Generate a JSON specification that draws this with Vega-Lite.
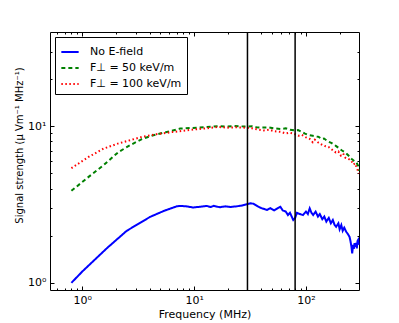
{
  "$schema": "https://vega.github.io/schema/vega-lite/v6.json",
  "width": 309,
  "height": 258,
  "autosize": {"type": "none"},
  "padding": {"left": 50, "top": 32, "right": 40, "bottom": 33},
  "config": {
    "font": "DejaVu Sans",
    "view": {"stroke": "black", "strokeWidth": 1},
    "axis": {"grid": false, "domain": false, "tickColor": "black", "labelColor": "black", "titleColor": "black", "labelFontSize": 11, "titleFontSize": 11, "titleFontWeight": "normal", "labelFont": "DejaVu Sans", "titleFont": "DejaVu Sans"}
  },
  "datasets": {
    "curves": [
      {"f": 0.8, "s": 1.0, "series": "No E-field"},
      {"f": 1.0, "s": 1.18, "series": "No E-field"},
      {"f": 1.67, "s": 1.67, "series": "No E-field"},
      {"f": 2.5, "s": 2.15, "series": "No E-field"},
      {"f": 4.05, "s": 2.64, "series": "No E-field"},
      {"f": 5.5, "s": 2.9, "series": "No E-field"},
      {"f": 7.0, "s": 3.08, "series": "No E-field"},
      {"f": 7.5, "s": 3.1, "series": "No E-field"},
      {"f": 8.5, "s": 3.08, "series": "No E-field"},
      {"f": 9.8, "s": 3.03, "series": "No E-field"},
      {"f": 11.3, "s": 3.06, "series": "No E-field"},
      {"f": 13, "s": 3.1, "series": "No E-field"},
      {"f": 14, "s": 3.05, "series": "No E-field"},
      {"f": 15, "s": 3.1, "series": "No E-field"},
      {"f": 17, "s": 3.04, "series": "No E-field"},
      {"f": 19, "s": 3.08, "series": "No E-field"},
      {"f": 21, "s": 3.05, "series": "No E-field"},
      {"f": 24, "s": 3.08, "series": "No E-field"},
      {"f": 27, "s": 3.12, "series": "No E-field"},
      {"f": 30, "s": 3.18, "series": "No E-field"},
      {"f": 32, "s": 3.22, "series": "No E-field"},
      {"f": 34, "s": 3.2, "series": "No E-field"},
      {"f": 37, "s": 3.08, "series": "No E-field"},
      {"f": 40, "s": 3.0, "series": "No E-field"},
      {"f": 43, "s": 2.95, "series": "No E-field"},
      {"f": 45, "s": 2.92, "series": "No E-field"},
      {"f": 48, "s": 3.0, "series": "No E-field"},
      {"f": 52, "s": 2.9, "series": "No E-field"},
      {"f": 56, "s": 3.0, "series": "No E-field"},
      {"f": 59, "s": 3.06, "series": "No E-field"},
      {"f": 62, "s": 2.9, "series": "No E-field"},
      {"f": 66, "s": 2.85, "series": "No E-field"},
      {"f": 69, "s": 2.71, "series": "No E-field"},
      {"f": 72, "s": 2.8, "series": "No E-field"},
      {"f": 77, "s": 2.52, "series": "No E-field"},
      {"f": 80, "s": 2.6, "series": "No E-field"},
      {"f": 83, "s": 2.8, "series": "No E-field"},
      {"f": 88, "s": 2.75, "series": "No E-field"},
      {"f": 94, "s": 2.71, "series": "No E-field"},
      {"f": 100, "s": 2.85, "series": "No E-field"},
      {"f": 104, "s": 2.75, "series": "No E-field"},
      {"f": 108, "s": 2.99, "series": "No E-field"},
      {"f": 112, "s": 2.8, "series": "No E-field"},
      {"f": 116, "s": 2.71, "series": "No E-field"},
      {"f": 122, "s": 2.85, "series": "No E-field"},
      {"f": 128, "s": 2.65, "series": "No E-field"},
      {"f": 133, "s": 2.75, "series": "No E-field"},
      {"f": 140, "s": 2.55, "series": "No E-field"},
      {"f": 146, "s": 2.65, "series": "No E-field"},
      {"f": 152, "s": 2.46, "series": "No E-field"},
      {"f": 160, "s": 2.6, "series": "No E-field"},
      {"f": 167, "s": 2.4, "series": "No E-field"},
      {"f": 174, "s": 2.52, "series": "No E-field"},
      {"f": 180, "s": 2.35, "series": "No E-field"},
      {"f": 186, "s": 2.28, "series": "No E-field"},
      {"f": 195, "s": 2.4, "series": "No E-field"},
      {"f": 200, "s": 2.2, "series": "No E-field"},
      {"f": 207, "s": 2.34, "series": "No E-field"},
      {"f": 213, "s": 2.15, "series": "No E-field"},
      {"f": 220, "s": 2.25, "series": "No E-field"},
      {"f": 229, "s": 2.12, "series": "No E-field"},
      {"f": 237, "s": 2.05, "series": "No E-field"},
      {"f": 245, "s": 1.97, "series": "No E-field"},
      {"f": 250, "s": 1.85, "series": "No E-field"},
      {"f": 255, "s": 1.7, "series": "No E-field"},
      {"f": 259, "s": 1.54, "series": "No E-field"},
      {"f": 264, "s": 1.75, "series": "No E-field"},
      {"f": 268, "s": 1.65, "series": "No E-field"},
      {"f": 272, "s": 1.79, "series": "No E-field"},
      {"f": 277, "s": 1.7, "series": "No E-field"},
      {"f": 281, "s": 1.8, "series": "No E-field"},
      {"f": 285, "s": 1.66, "series": "No E-field"},
      {"f": 289, "s": 1.85, "series": "No E-field"},
      {"f": 293, "s": 1.88, "series": "No E-field"},
      {"f": 296, "s": 1.75, "series": "No E-field"},

      {"f": 0.8, "s": 3.87, "series": "F⊥ = 50 keV/m"},
      {"f": 1.14, "s": 4.75, "series": "F⊥ = 50 keV/m"},
      {"f": 1.55, "s": 5.64, "series": "F⊥ = 50 keV/m"},
      {"f": 2.11, "s": 6.85, "series": "F⊥ = 50 keV/m"},
      {"f": 2.68, "s": 7.57, "series": "F⊥ = 50 keV/m"},
      {"f": 3.41, "s": 8.28, "series": "F⊥ = 50 keV/m"},
      {"f": 4.33, "s": 8.76, "series": "F⊥ = 50 keV/m"},
      {"f": 5.7, "s": 9.2, "series": "F⊥ = 50 keV/m"},
      {"f": 7.5, "s": 9.66, "series": "F⊥ = 50 keV/m"},
      {"f": 10.6, "s": 9.8, "series": "F⊥ = 50 keV/m"},
      {"f": 13, "s": 9.9, "series": "F⊥ = 50 keV/m"},
      {"f": 16.5, "s": 10.0, "series": "F⊥ = 50 keV/m"},
      {"f": 20, "s": 9.95, "series": "F⊥ = 50 keV/m"},
      {"f": 23, "s": 10.05, "series": "F⊥ = 50 keV/m"},
      {"f": 28.6, "s": 9.95, "series": "F⊥ = 50 keV/m"},
      {"f": 33, "s": 10.0, "series": "F⊥ = 50 keV/m"},
      {"f": 36, "s": 9.85, "series": "F⊥ = 50 keV/m"},
      {"f": 40, "s": 9.8, "series": "F⊥ = 50 keV/m"},
      {"f": 46, "s": 9.85, "series": "F⊥ = 50 keV/m"},
      {"f": 52, "s": 9.7, "series": "F⊥ = 50 keV/m"},
      {"f": 60, "s": 9.6, "series": "F⊥ = 50 keV/m"},
      {"f": 66, "s": 9.7, "series": "F⊥ = 50 keV/m"},
      {"f": 72, "s": 9.5, "series": "F⊥ = 50 keV/m"},
      {"f": 80, "s": 9.4, "series": "F⊥ = 50 keV/m"},
      {"f": 85, "s": 9.45, "series": "F⊥ = 50 keV/m"},
      {"f": 92, "s": 9.2, "series": "F⊥ = 50 keV/m"},
      {"f": 98, "s": 8.98, "series": "F⊥ = 50 keV/m"},
      {"f": 105, "s": 8.8, "series": "F⊥ = 50 keV/m"},
      {"f": 115, "s": 8.7, "series": "F⊥ = 50 keV/m"},
      {"f": 125, "s": 8.6, "series": "F⊥ = 50 keV/m"},
      {"f": 130, "s": 8.56, "series": "F⊥ = 50 keV/m"},
      {"f": 138, "s": 8.3, "series": "F⊥ = 50 keV/m"},
      {"f": 145, "s": 8.35, "series": "F⊥ = 50 keV/m"},
      {"f": 158, "s": 8.0, "series": "F⊥ = 50 keV/m"},
      {"f": 170, "s": 7.8, "series": "F⊥ = 50 keV/m"},
      {"f": 185, "s": 7.5, "series": "F⊥ = 50 keV/m"},
      {"f": 200, "s": 7.2, "series": "F⊥ = 50 keV/m"},
      {"f": 210, "s": 7.0, "series": "F⊥ = 50 keV/m"},
      {"f": 225, "s": 6.8, "series": "F⊥ = 50 keV/m"},
      {"f": 240, "s": 6.5, "series": "F⊥ = 50 keV/m"},
      {"f": 255, "s": 6.2, "series": "F⊥ = 50 keV/m"},
      {"f": 270, "s": 6.0, "series": "F⊥ = 50 keV/m"},
      {"f": 282, "s": 5.9, "series": "F⊥ = 50 keV/m"},
      {"f": 292, "s": 5.6, "series": "F⊥ = 50 keV/m"},
      {"f": 298, "s": 5.2, "series": "F⊥ = 50 keV/m"},

      {"f": 0.8, "s": 5.4, "series": "F⊥ = 100 keV/m"},
      {"f": 1.14, "s": 6.37, "series": "F⊥ = 100 keV/m"},
      {"f": 1.55, "s": 7.2, "series": "F⊥ = 100 keV/m"},
      {"f": 2.11, "s": 7.77, "series": "F⊥ = 100 keV/m"},
      {"f": 2.68, "s": 8.15, "series": "F⊥ = 100 keV/m"},
      {"f": 3.41, "s": 8.55, "series": "F⊥ = 100 keV/m"},
      {"f": 4.6, "s": 8.9, "series": "F⊥ = 100 keV/m"},
      {"f": 6.5, "s": 9.2, "series": "F⊥ = 100 keV/m"},
      {"f": 10.6, "s": 9.58, "series": "F⊥ = 100 keV/m"},
      {"f": 13, "s": 9.7, "series": "F⊥ = 100 keV/m"},
      {"f": 16.5, "s": 9.9, "series": "F⊥ = 100 keV/m"},
      {"f": 20, "s": 9.8, "series": "F⊥ = 100 keV/m"},
      {"f": 24, "s": 9.85, "series": "F⊥ = 100 keV/m"},
      {"f": 28.6, "s": 9.8, "series": "F⊥ = 100 keV/m"},
      {"f": 33, "s": 9.7, "series": "F⊥ = 100 keV/m"},
      {"f": 38, "s": 9.5, "series": "F⊥ = 100 keV/m"},
      {"f": 42, "s": 9.4, "series": "F⊥ = 100 keV/m"},
      {"f": 47, "s": 9.5, "series": "F⊥ = 100 keV/m"},
      {"f": 52, "s": 9.3, "series": "F⊥ = 100 keV/m"},
      {"f": 60, "s": 9.2, "series": "F⊥ = 100 keV/m"},
      {"f": 66, "s": 9.0, "series": "F⊥ = 100 keV/m"},
      {"f": 72, "s": 9.1, "series": "F⊥ = 100 keV/m"},
      {"f": 80, "s": 8.9, "series": "F⊥ = 100 keV/m"},
      {"f": 86, "s": 8.7, "series": "F⊥ = 100 keV/m"},
      {"f": 92, "s": 8.8, "series": "F⊥ = 100 keV/m"},
      {"f": 100, "s": 8.5, "series": "F⊥ = 100 keV/m"},
      {"f": 108, "s": 8.3, "series": "F⊥ = 100 keV/m"},
      {"f": 115, "s": 7.9, "series": "F⊥ = 100 keV/m"},
      {"f": 120, "s": 8.2, "series": "F⊥ = 100 keV/m"},
      {"f": 128, "s": 7.9, "series": "F⊥ = 100 keV/m"},
      {"f": 140, "s": 7.6, "series": "F⊥ = 100 keV/m"},
      {"f": 150, "s": 7.45, "series": "F⊥ = 100 keV/m"},
      {"f": 160, "s": 7.36, "series": "F⊥ = 100 keV/m"},
      {"f": 175, "s": 7.0, "series": "F⊥ = 100 keV/m"},
      {"f": 185, "s": 6.8, "series": "F⊥ = 100 keV/m"},
      {"f": 195, "s": 6.9, "series": "F⊥ = 100 keV/m"},
      {"f": 205, "s": 6.5, "series": "F⊥ = 100 keV/m"},
      {"f": 215, "s": 6.7, "series": "F⊥ = 100 keV/m"},
      {"f": 225, "s": 6.3, "series": "F⊥ = 100 keV/m"},
      {"f": 240, "s": 6.2, "series": "F⊥ = 100 keV/m"},
      {"f": 255, "s": 6.0, "series": "F⊥ = 100 keV/m"},
      {"f": 265, "s": 5.7, "series": "F⊥ = 100 keV/m"},
      {"f": 275, "s": 5.8, "series": "F⊥ = 100 keV/m"},
      {"f": 285, "s": 5.4, "series": "F⊥ = 100 keV/m"},
      {"f": 292, "s": 5.2, "series": "F⊥ = 100 keV/m"},
      {"f": 298, "s": 5.0, "series": "F⊥ = 100 keV/m"}
    ],
    "vlines": [{"f": 30}, {"f": 80}],
    "dummy": [{"s": 1}]
  },
  "layer": [
    {
      "data": {"name": "curves"},
      "mark": {"type": "line", "strokeWidth": 2},
      "encoding": {
        "x": {
          "field": "f", "type": "quantitative",
          "scale": {"type": "log", "domain": [0.515, 298], "nice": false},
          "axis": {
            "orient": "bottom", "title": "Frequency (MHz)", "titlePadding": 1,
            "values": [0.6, 0.7, 0.8, 0.9, 1, 2, 3, 4, 5, 6, 7, 8, 9, 10, 20, 30, 40, 50, 60, 70, 80, 90, 100, 200],
            "labelExpr": "datum.value == 1 ? '10⁰' : datum.value == 10 ? '10¹' : datum.value == 100 ? '10²' : ''",
            "tickSize": {"condition": {"test": "datum.value == 1 || datum.value == 10 || datum.value == 100", "value": -4}, "value": -2},
            "labelPadding": 8, "labelFlush": false, "labelOverlap": false
          }
        },
        "y": {
          "field": "s", "type": "quantitative",
          "scale": {"type": "log", "domain": [0.9, 40], "nice": false},
          "axis": {
            "orient": "left", "title": "Signal strength (μ Vm⁻¹ MHz⁻¹)", "titlePadding": 3, "titleFontSize": 10, "titleY": 113,
            "values": [1, 2, 3, 4, 5, 6, 7, 8, 9, 10, 20, 30],
            "labelExpr": "datum.value == 1 ? '10⁰' : datum.value == 10 ? '10¹' : ''",
            "tickSize": {"condition": {"test": "datum.value == 1 || datum.value == 10", "value": -4}, "value": -2},
            "labelPadding": 8, "labelFlush": false, "labelOverlap": false
          }
        },
        "color": {
          "field": "series", "type": "nominal",
          "scale": {"domain": ["No E-field", "F⊥ = 50 keV/m", "F⊥ = 100 keV/m"], "range": ["#0000ff", "#008000", "#ff0000"]},
          "legend": {
            "title": null, "orient": "top-left", "offset": 5, "symbolType": "stroke", "symbolStrokeWidth": 2,
            "symbolSize": 300, "labelFontSize": 11, "labelColor": "black", "labelFont": "DejaVu Sans",
            "strokeColor": "black", "fillColor": "white", "padding": 5, "labelOffset": 10, "rowPadding": 1
          }
        },
        "strokeDash": {
          "field": "series", "type": "nominal",
          "scale": {"domain": ["No E-field", "F⊥ = 50 keV/m", "F⊥ = 100 keV/m"], "range": [[1, 0], [4, 3], [1.5, 2.5]]},
          "legend": null
        }
      }
    },
    {
      "data": {"name": "vlines"},
      "mark": {"type": "rule", "color": "black", "strokeWidth": 1.5},
      "encoding": {
        "x": {
          "field": "f", "type": "quantitative",
          "scale": {"type": "log", "domain": [0.515, 298], "nice": false},
          "axis": {
            "orient": "top", "title": null, "labels": false,
            "values": [0.6, 0.7, 0.8, 0.9, 1, 2, 3, 4, 5, 6, 7, 8, 9, 10, 20, 30, 40, 50, 60, 70, 80, 90, 100, 200],
            "tickSize": {"condition": {"test": "datum.value == 1 || datum.value == 10 || datum.value == 100", "value": -4}, "value": -2}
          }
        }
      }
    },
    {
      "data": {"name": "dummy"},
      "mark": {"type": "point", "opacity": 0},
      "encoding": {
        "y": {
          "field": "s", "type": "quantitative",
          "scale": {"type": "log", "domain": [0.9, 40], "nice": false},
          "axis": {
            "orient": "right", "title": null, "labels": false,
            "values": [1, 2, 3, 4, 5, 6, 7, 8, 9, 10, 20, 30],
            "tickSize": {"condition": {"test": "datum.value == 1 || datum.value == 10", "value": -4}, "value": -2}
          }
        }
      }
    }
  ],
  "resolve": {"scale": {"x": "independent", "y": "independent"}}
}
